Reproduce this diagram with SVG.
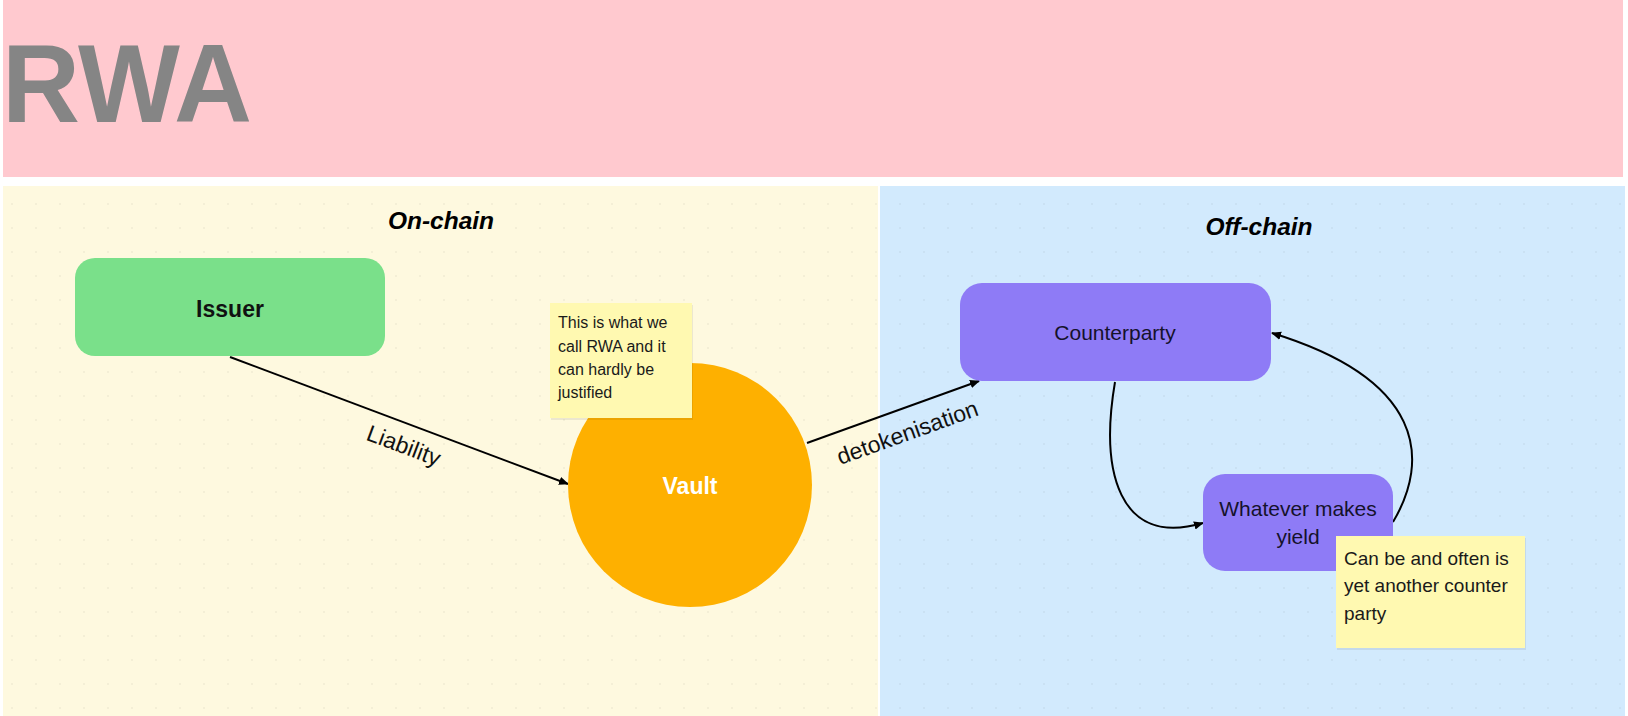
<svg xmlns="http://www.w3.org/2000/svg" width="1628" height="716" viewBox="0 0 1628 716">
<style>
.sans{font-family:"Liberation Sans",Arial,sans-serif}
.node-label{font-family:"Liberation Sans",Arial,sans-serif;font-size:21px;fill:#15122b;text-anchor:middle}
.bold-label{font-family:"Liberation Sans",Arial,sans-serif;font-size:23px;font-weight:bold;text-anchor:middle}
.note-text{font-family:"Liberation Sans",Arial,sans-serif;fill:#1a1a1a}
.edge{fill:none;stroke:#000;stroke-width:2}
.edge-label{font-family:"Liberation Sans",Arial,sans-serif;font-size:23px;fill:#111;text-anchor:middle}
.section{font-family:"Liberation Sans",Arial,sans-serif;font-size:24.5px;font-weight:bold;font-style:italic;fill:#000;text-anchor:middle}
.note{fill:#fff9b1}
.shadow{fill:#000;opacity:0.07}
</style>
<defs>
<marker id="arrow" viewBox="0 0 10 10" refX="9" refY="5" markerWidth="10" markerHeight="10" markerUnits="userSpaceOnUse" orient="auto">
<path d="M0,0.8 L10,5 L0,9.2 Z" fill="#000"/>
</marker>
<pattern id="dots" width="24" height="24" patternUnits="userSpaceOnUse">
<circle cx="12" cy="12" r="1" fill="#000" opacity="0.05"/>
</pattern>
</defs>
<rect x="0" y="0" width="1628" height="716" fill="#ffffff"/>
<g id="header">
<rect x="3" y="0" width="1620" height="177" fill="#ffc9cf"/>
<text x="2" y="122" class="sans" font-size="112" font-weight="bold" fill="#858585" textLength="250" lengthAdjust="spacingAndGlyphs">RWA</text>
</g>
<g id="on-chain-panel">
<rect x="3" y="186" width="875" height="530" fill="#fef9df"/>
<rect x="3" y="186" width="875" height="530" fill="url(#dots)"/>
<text x="441" y="229" class="section">On-chain</text>
</g>
<g id="off-chain-panel">
<rect x="880" y="186" width="745" height="530" fill="#d2eafd"/>
<rect x="880" y="186" width="745" height="530" fill="url(#dots)"/>
<text x="1259" y="235" class="section">Off-chain</text>
</g>
<g id="connectors">
<line class="edge" x1="230" y1="357" x2="568" y2="484" marker-end="url(#arrow)"/>
<text class="edge-label" transform="translate(401,453) rotate(20.6)">Liability</text>
<line class="edge" x1="807" y1="443" x2="979" y2="381" marker-end="url(#arrow)"/>
<text class="edge-label" transform="translate(910,440) rotate(-19.8)">detokenisation</text>
<path class="edge" d="M1115,382 C1100,470 1118,548 1203,523" marker-end="url(#arrow)"/>
<path class="edge" d="M1393,522 C1430,460 1425,380 1272,333" marker-end="url(#arrow)"/>
</g>
<g id="issuer">
<rect x="75" y="258" width="310" height="98" rx="20" fill="#7ae08a"/>
<text x="230" y="317" class="bold-label" fill="#111">Issuer</text>
</g>
<g id="vault">
<circle cx="690" cy="485" r="122" fill="#feb000"/>
<text x="690" y="494" class="bold-label" fill="#ffffff">Vault</text>
</g>
<g id="note-rwa">
<rect x="551" y="305" width="142" height="115" class="shadow"/>
<rect x="550" y="303" width="142" height="115" class="note"/>
<text class="note-text" font-size="16">
<tspan x="558" y="328">This is what we</tspan>
<tspan x="558" y="352">call RWA and it</tspan>
<tspan x="558" y="375">can hardly be</tspan>
<tspan x="558" y="398">justified</tspan>
</text>
</g>
<g id="counterparty">
<rect x="960" y="283" width="311" height="98" rx="22" fill="#8e7bf6"/>
<text x="1115" y="340" class="node-label">Counterparty</text>
</g>
<g id="whatever-makes-yield">
<rect x="1203" y="474" width="190" height="97" rx="22" fill="#8e7bf6"/>
<text class="node-label"><tspan x="1298" y="516">Whatever makes</tspan><tspan x="1298" y="544">yield</tspan></text>
</g>
<g id="note-counterparty">
<rect x="1337" y="538" width="189" height="112" class="shadow"/>
<rect x="1336" y="536" width="189" height="112" class="note"/>
<text class="note-text" font-size="19">
<tspan x="1344" y="565">Can be and often is</tspan>
<tspan x="1344" y="592">yet another counter</tspan>
<tspan x="1344" y="620">party</tspan>
</text>
</g>
</svg>
